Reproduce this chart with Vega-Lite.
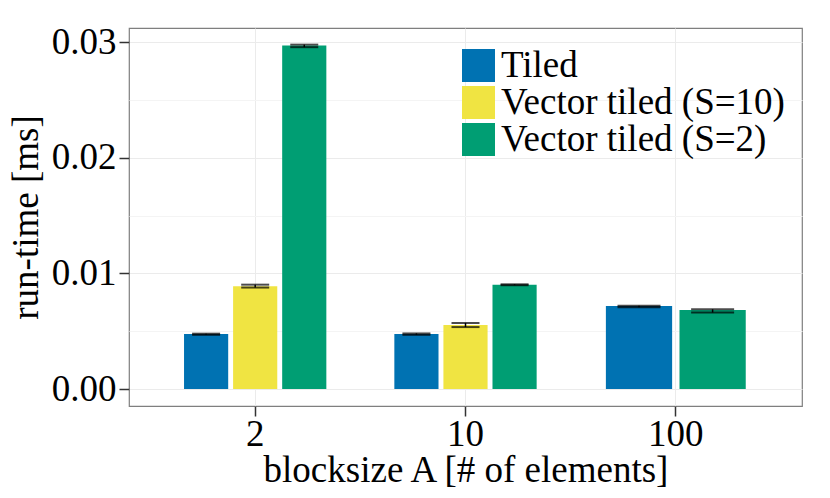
{
  "$schema": "https://vega.github.io/schema/vega-lite/v6.json",
  "width": 673,
  "height": 378,
  "autosize": {"type": "none"},
  "padding": {"left": 129, "top": 28, "right": 28, "bottom": 92},
  "background": "white",
  "config": {
    "font": "Liberation Serif",
    "view": {"stroke": "#7f7f7f", "strokeWidth": 1.2},
    "axis": {
      "labelFont": "Liberation Serif",
      "titleFont": "Liberation Serif",
      "labelFontSize": 37,
      "titleFontSize": 37,
      "titleFontWeight": "normal",
      "labelColor": "black",
      "titleColor": "black",
      "tickColor": "#333333",
      "tickWidth": 1.5,
      "tickSize": 10,
      "domain": false,
      "gridColor": "#ebebeb",
      "gridWidth": 1
    },
    "legend": {
      "labelFont": "Liberation Serif"
    }
  },
  "data": {
    "values": [
      {"A": "2", "impl": "Tiled", "t": 0.00475, "lo": 0.00469, "hi": 0.00479},
      {"A": "2", "impl": "Vector tiled (S=10)", "t": 0.0089, "lo": 0.00878, "hi": 0.00903},
      {"A": "2", "impl": "Vector tiled (S=2)", "t": 0.02972, "lo": 0.02958, "hi": 0.02980},
      {"A": "10", "impl": "Tiled", "t": 0.00476, "lo": 0.00469, "hi": 0.00481},
      {"A": "10", "impl": "Vector tiled (S=10)", "t": 0.00554, "lo": 0.00536, "hi": 0.00571},
      {"A": "10", "impl": "Vector tiled (S=2)", "t": 0.00903, "lo": 0.00898, "hi": 0.00906},
      {"A": "100", "impl": "Tiled", "t": 0.00718, "lo": 0.00708, "hi": 0.00721},
      {"A": "100", "impl": "Vector tiled (S=2)", "t": 0.00684, "lo": 0.00662, "hi": 0.00690}
    ]
  },
  "encoding": {
    "x": {
      "field": "A",
      "type": "nominal",
      "sort": ["2", "10", "100"],
      "scale": {"domain": ["2", "10", "100"], "paddingInner": 0.3, "paddingOuter": 0.25},
      "axis": {"title": "blocksize A [# of elements]", "labelAngle": 0, "grid": true, "bandPosition": 0.5, "labelPadding": 0, "titlePadding": 0}
    },
    "y": {
      "field": "t",
      "type": "quantitative",
      "scale": {"domain": [-0.00147, 0.03124], "nice": false, "zero": false},
      "axis": {
        "title": "run-time [ms]",
        "values": [0, 0.005, 0.01, 0.015, 0.02, 0.025, 0.03],
        "labelExpr": "round(datum.value*1000) % 10 == 0 ? format(datum.value, '.2f') : ''",
        "gridColor": {"condition": {"test": "round(datum.value*1000) % 10 == 0", "value": "#ebebeb"}, "value": "#f4f4f4"},
        "tickOpacity": {"condition": {"test": "round(datum.value*1000) % 10 == 0", "value": 1}, "value": 0},
        "labelPadding": 3,
        "titlePadding": 6
      }
    }
  },
  "layer": [
    {
      "transform": [{"filter": "datum.A != '100'"}],
      "encoding": {
        "xOffset": {
          "field": "impl",
          "type": "nominal",
          "scale": {"domain": ["Tiled", "Vector tiled (S=10)", "Vector tiled (S=2)"], "paddingInner": 0.1, "paddingOuter": 0.05}
        }
      },
      "layer": [
        {
          "mark": {"type": "bar"},
          "encoding": {
            "color": {
              "field": "impl",
              "type": "nominal",
              "scale": {"domain": ["Tiled", "Vector tiled (S=10)", "Vector tiled (S=2)"], "range": ["#0072B2", "#F0E442", "#009E73"]},
              "legend": {
                "title": null,
                "orient": "none",
                "legendX": 331,
                "legendY": 19,
                "symbolType": "square",
                "symbolSize": 1089,
                "symbolStrokeWidth": 0,
                "symbolOpacity": 1,
                "labelFontSize": 37,
                "labelLimit": 0,
                "labelColor": "black",
                "labelOffset": 4,
                "rowPadding": -4,
                "padding": 0
              }
            }
          }
        },
        {
          "mark": {"type": "rule", "color": "black", "strokeWidth": 1.5},
          "encoding": {"y": {"field": "lo", "type": "quantitative"}, "y2": {"field": "hi"}}
        },
        {
          "mark": {"type": "tick", "color": "black", "size": 28, "thickness": 2},
          "encoding": {"y": {"field": "lo", "type": "quantitative"}}
        },
        {
          "mark": {"type": "tick", "color": "black", "size": 28, "thickness": 2},
          "encoding": {"y": {"field": "hi", "type": "quantitative"}}
        }
      ]
    },
    {
      "transform": [{"filter": "datum.A == '100'"}],
      "encoding": {
        "xOffset": {
          "field": "impl",
          "type": "nominal",
          "scale": {"domain": ["Tiled", "Vector tiled (S=2)"], "paddingInner": 0.1, "paddingOuter": 0.05}
        }
      },
      "layer": [
        {
          "mark": {"type": "bar"},
          "encoding": {
            "color": {"field": "impl", "type": "nominal"}
          }
        },
        {
          "mark": {"type": "rule", "color": "black", "strokeWidth": 1.5},
          "encoding": {"y": {"field": "lo", "type": "quantitative"}, "y2": {"field": "hi"}}
        },
        {
          "mark": {"type": "tick", "color": "black", "size": 43, "thickness": 2},
          "encoding": {"y": {"field": "lo", "type": "quantitative"}}
        },
        {
          "mark": {"type": "tick", "color": "black", "size": 43, "thickness": 2},
          "encoding": {"y": {"field": "hi", "type": "quantitative"}}
        }
      ]
    }
  ],
  "resolve": {"scale": {"xOffset": "independent"}}
}
